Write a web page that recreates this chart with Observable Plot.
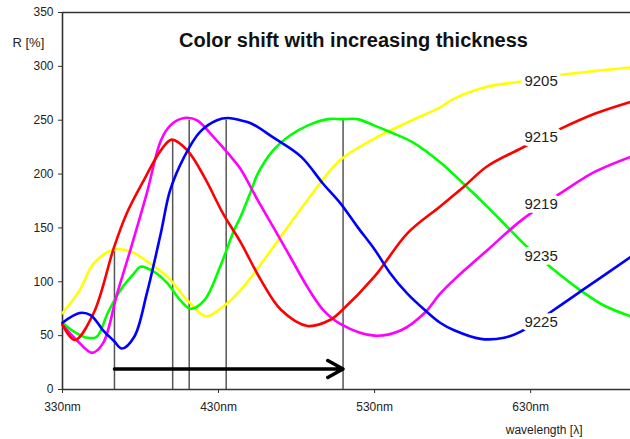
<!DOCTYPE html>
<html><head><meta charset="utf-8">
<script src="https://cdn.jsdelivr.net/npm/d3@7"></script>
<script src="https://cdn.jsdelivr.net/npm/@observablehq/plot@0.6"></script>
<style>body{margin:0;background:#fff}</style>
</head><body><div id="chart"></div>
<script>
const titleText = "Color shift with increasing thickness";
const yLabel = "R [%]";
const xLabel = "wavelength [\u03bb]";
const xTicks = [330, 430, 530, 630];
const yTicks = [0, 50, 100, 150, 200, 250, 300, 350];

const seriesNames = ["9205", "9235", "9219", "9215", "9225"];
const seriesColors = ["#ffff00", "#00ff00", "#ff00ff", "#ff0000", "#0000ff"];

const wl9205 = [330,341,350,363,374,386,397,410,422,433,444,465,487,508,530,551,572,581,602,624,649,694];
const r9205  = [71,92,117,130,128,117,105,83,68,77,92,132,176,213,233,248,262,270,281,286,292,299];

const wl9215 = [330,338,350,363,371,382,393,400,410,421,433,444,457,470,487,502,508,530,551,572,587,602,624,649,671,694];
const r9215  = [60,46,71,132,163,194,222,232,222,197,163,137,102,74,59,65,72,105,145,170,188,207,224,242,256,267];

const wl9219 = [330,339,349,356,365,374,384,393,399,408,416,427,438,444,455,465,476,487,497,508,530,547,562,572,581,602,624,649,671,694];
const r9219  = [60,46,34,43,89,132,182,231,245,252,250,234,216,205,176,151,123,95,74,61,50,55,71,89,102,129,157,182,202,216];

const wl9225 = [330,341,348,356,363,368,376,384,393,399,408,418,429,436,444,451,465,483,497,508,519,530,540,551,562,572,581,598,613,624,645,666,694];
const r9225  = [62,71,69,55,45,38,49,89,145,185,216,239,250,252,250,247,234,216,191,173,151,130,108,89,74,62,55,47,48,54,74,95,123];

const wl9235 = [330,337,346,352,359,367,376,380,389,397,406,412,421,431,440,444,451,455,465,476,487,500,509,519,530,540,555,572,587,602,617,628,645,662,677,694];
const r9235  = [62,54,48,49,71,92,108,114,109,99,82,75,83,114,148,160,185,200,222,236,245,251,251,251,245,239,229,211,191,170,148,132,111,92,78,68];

const peakWl = [363.3, 400.6, 411.2, 434.9, 509.8];
const peakR  = [128, 232, 250, 250, 251];

const arrowFrom = 363.3, arrowTo = 509.8, arrowR = 19;

const labelNames = ["9205", "9215", "9219", "9235", "9225"];
const labelWl = [636.7, 636.7, 636.7, 636.7, 636.7];
const labelR  = [286.5, 234, 172, 124, 62.3];

const seriesData = {
  "9205": [wl9205, r9205], "9215": [wl9215, r9215], "9219": [wl9219, r9219],
  "9225": [wl9225, r9225], "9235": [wl9235, r9235]
};
const rows = [];
for (const name of seriesNames) {
  const [w, r] = seriesData[name];
  w.forEach((x, i) => rows.push({name, wl: x, r: r[i]}));
}
const peaks = peakWl.map((w, i) => ({wl: w, r: peakR[i]}));
const labels = labelNames.map((n, i) => ({name: n, wl: labelWl[i], r: labelR[i]}));

const chart = Plot.plot({
  width: 630, height: 439,
  marginLeft: 62, marginRight: 0, marginTop: 12, marginBottom: 50,
  style: {fontFamily: "'Liberation Sans', Arial, sans-serif", fontSize: "12px", color: "#222", background: "#fff"},
  x: {domain: [330, 694]},
  y: {domain: [0, 350]},
  color: {domain: seriesNames, range: seriesColors},
  marks: [
    Plot.axisX({ticks: xTicks, tickFormat: d => d + "nm", tickSize: 4, tickPadding: 9, label: null, stroke: "#333"}),
    Plot.axisY({ticks: yTicks, tickSize: 4, tickPadding: 5, label: null, stroke: "#333"}),
    Plot.ruleY([0, 350], {stroke: "#333", strokeWidth: 1.6}),
    Plot.ruleX([330], {stroke: "#333", strokeWidth: 1.6}),
    Plot.ruleX(peaks, {x: "wl", y1: 0, y2: "r", stroke: "#555", strokeWidth: 1.5}),
    Plot.arrow([0], {x1: arrowFrom, x2: arrowTo, y1: arrowR, y2: arrowR, stroke: "#000", strokeWidth: 3.5, headLength: 7.5, headAngle: 58}),
    Plot.line(rows, {x: "wl", y: "r", z: "name", stroke: "name", strokeWidth: 2.6, curve: "catmull-rom"}),
    Plot.text(labels, {x: "wl", y: "r", text: "name", fontSize: 15, fill: "#222", stroke: "white", strokeWidth: 8, paintOrder: "stroke"}),
    Plot.text([titleText], {text: d => d, frameAnchor: "top", dx: 7, dy: 28, fontSize: 20, fontWeight: "bold", fill: "#111", lineAnchor: "middle"}),
    Plot.text([yLabel], {text: d => d, frameAnchor: "top-left", dx: -50, dy: 30, textAnchor: "start", fontSize: 13, fill: "#222", lineAnchor: "middle"}),
    Plot.text([xLabel], {text: d => d, frameAnchor: "bottom-right", dx: -48, dy: 41, textAnchor: "end", fontSize: 12, fill: "#222", lineAnchor: "middle"})
  ]
});
document.getElementById("chart").appendChild(chart);
</script>
</body></html>
